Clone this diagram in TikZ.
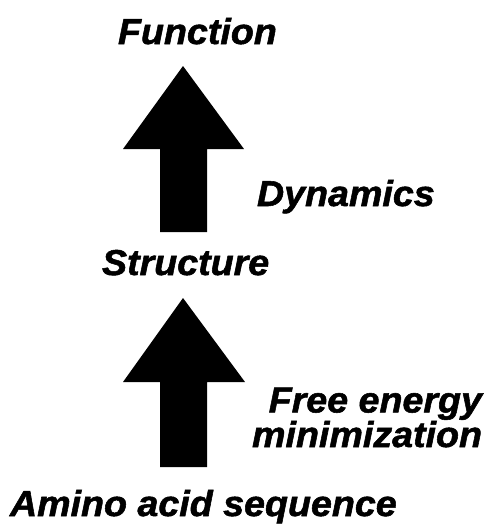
\documentclass[tikz,border=0pt]{standalone}
\usepackage{fontspec}
\setmainfont{Liberation Sans}
\newfontfamily\lblfont[FakeBold=1.5,FakeStretch=1.045]{Liberation Sans}
\begin{document}
\begin{tikzpicture}[x=1pt,y=-1pt,
  lbl/.style={inner sep=0pt,outer sep=0pt,font=\lblfont\fontsize{36}{29.5}\selectfont\bfseries\itshape},
  blockarrow/.style={fill=black,draw=none}]
\useasboundingbox (0,0) rectangle (486,528);
% labels
\node[lbl,anchor=base west] (func) at (118,44) {Function};
\node[lbl,anchor=base west] (dyn) at (257,206) {Dynamics};
\node[lbl,anchor=base west] (struct) at (102,275) {Structure};
\node[lbl,anchor=base east,align=right] (fem) at (482,447) {Free energy\\minimization};
\node[lbl,anchor=base west] (aas) at (10,516) {Amino acid sequence};
% arrow 1
\coordinate (a1tip) at (183,66);
\coordinate (a1bot) at (183,232);
\fill[blockarrow] (a1tip) -- (244,149) -- (207,149) -- (207,232) -- (160,232) -- (160,149) -- (123,149) -- cycle;
% arrow 2
\coordinate (a2tip) at (183,298);
\coordinate (a2bot) at (183,467);
\fill[blockarrow] (a2tip) -- (245,382) -- (207,382) -- (207,467) -- (160,467) -- (160,382) -- (123,382) -- cycle;
\end{tikzpicture}
\end{document}
